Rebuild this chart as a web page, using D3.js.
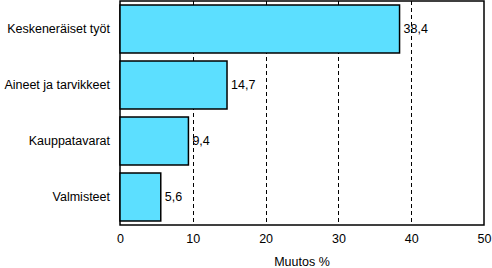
<!DOCTYPE html>
<html>
<head>
<meta charset="utf-8">
<script src="https://cdn.jsdelivr.net/npm/d3@7"></script>
<style>
  html, body { margin: 0; padding: 0; background: #fff; }
  svg { display: block; font-family: "Liberation Sans", Arial, sans-serif; }
</style>
</head>
<body>
<div id="chart"></div>
<script>
const categories = ["Keskeneräiset työt", "Aineet ja tarvikkeet", "Kauppatavarat", "Valmisteet"];
const values = [38.4, 14.7, 9.4, 5.6];
const valueLabels = ["38,4", "14,7", "9,4", "5,6"];
const xTicks = [0, 10, 20, 30, 40, 50];
const xTitle = "Muutos %";

const width = 492, height = 268;
const margin = { top: 1, right: 8, bottom: 43, left: 120 };
const fontSize = 12.5;

const svg = d3.select("#chart").append("svg")
  .attr("width", width)
  .attr("height", height);

const x = d3.scaleLinear()
  .domain([0, 50])
  .range([margin.left, width - margin.right]);

const y = d3.scaleBand()
  .domain(categories)
  .range([margin.top, height - margin.bottom])
  .paddingInner(0.143)
  .paddingOuter(0.0715);

// plot frame
svg.append("rect")
  .attr("x", margin.left)
  .attr("y", margin.top)
  .attr("width", x(50) - x(0))
  .attr("height", height - margin.bottom - margin.top)
  .attr("fill", "none")
  .attr("stroke", "#000")
  .attr("stroke-width", 1.5);

// dashed grid
svg.append("g")
  .selectAll("line")
  .data(xTicks.filter((d) => d > 0 && d < 50))
  .join("line")
  .attr("x1", (d) => Math.round(x(d)) + 0.5)
  .attr("x2", (d) => Math.round(x(d)) + 0.5)
  .attr("y1", margin.top)
  .attr("y2", height - margin.bottom)
  .attr("stroke", "#000")
  .attr("stroke-dasharray", "4,3");

// bars
svg.append("g")
  .selectAll("rect")
  .data(values)
  .join("rect")
  .attr("x", x(0))
  .attr("y", (d, i) => y(categories[i]))
  .attr("width", (d) => x(d) - x(0))
  .attr("height", y.bandwidth())
  .attr("fill", "#5cdfff")
  .attr("stroke", "#000")
  .attr("stroke-width", 1.5);

// value labels
svg.append("g")
  .selectAll("text")
  .data(values)
  .join("text")
  .attr("x", (d) => x(d) + 4)
  .attr("y", (d, i) => y(categories[i]) + y.bandwidth() / 2)
  .attr("dy", "0.35em")
  .attr("font-size", fontSize)
  .attr("fill", "#000")
  .text((d, i) => valueLabels[i]);

// category axis
const gY = svg.append("g")
  .attr("transform", `translate(${margin.left},0)`)
  .call(d3.axisLeft(y).tickSize(0).tickPadding(10));
gY.select(".domain").remove();
gY.selectAll("text").attr("font-size", fontSize).attr("fill", "#000").attr("font-family", null);

// value axis
const gX = svg.append("g")
  .attr("transform", `translate(0,${height - margin.bottom})`)
  .call(d3.axisBottom(x).tickValues(xTicks).tickSize(0).tickPadding(9).tickFormat(d3.format("d")));
gX.select(".domain").remove();
gX.selectAll("text").attr("font-size", fontSize).attr("fill", "#000").attr("font-family", null);

svg.append("text")
  .attr("x", (x(0) + x(50)) / 2)
  .attr("y", height - 2)
  .attr("text-anchor", "middle")
  .attr("font-size", fontSize)
  .attr("fill", "#000")
  .text(xTitle);
</script>
</body>
</html>
